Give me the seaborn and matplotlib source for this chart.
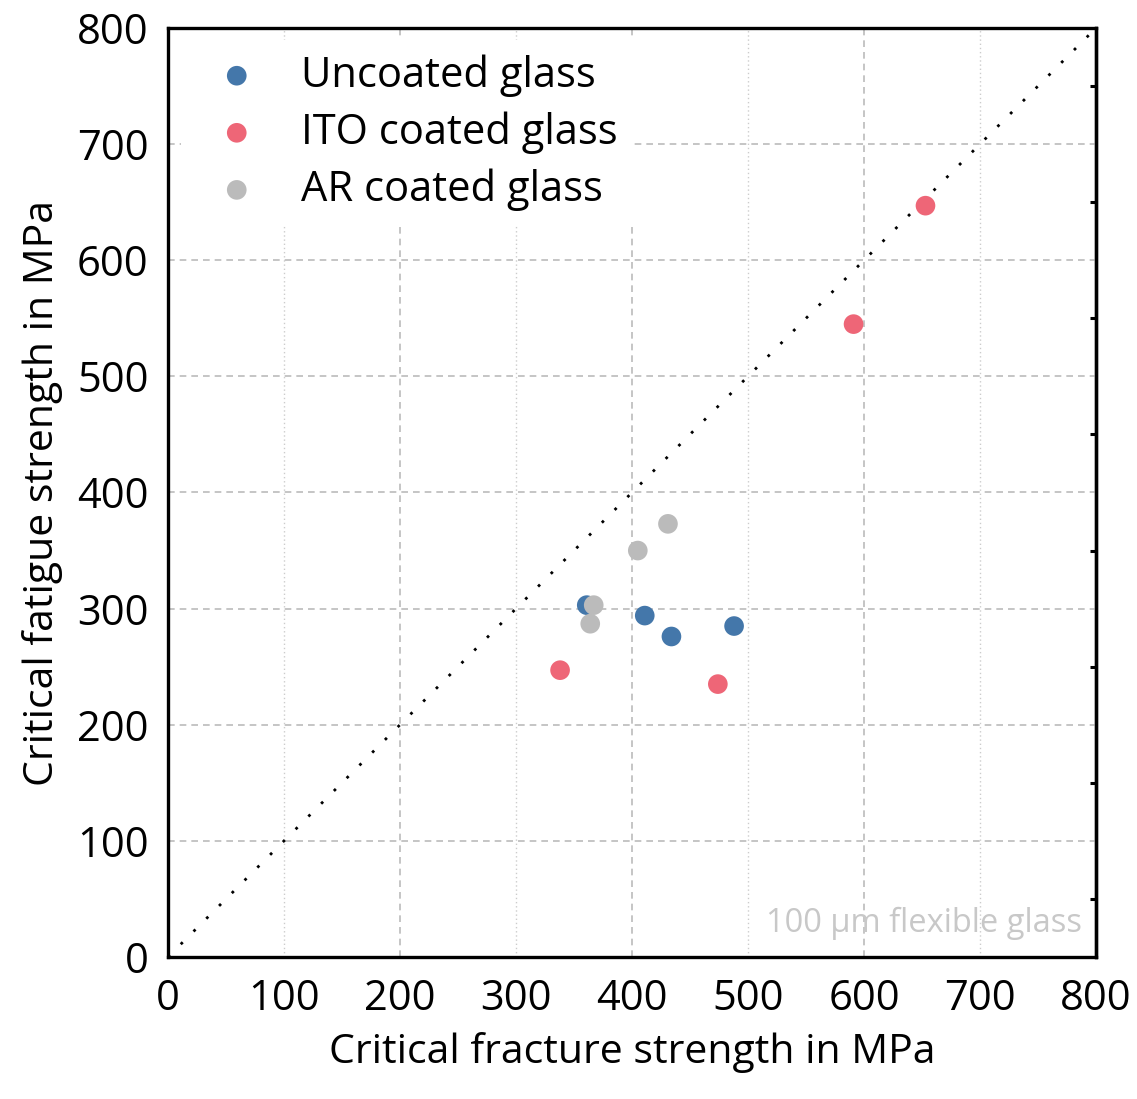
import matplotlib
matplotlib.use("Agg")
import matplotlib.pyplot as plt
import seaborn as sns
import pandas as pd
import numpy as np
from matplotlib.ticker import MultipleLocator, FuncFormatter

# ---- data ----
uncoated_x = [361, 411, 434, 488]
uncoated_y = [303, 294, 276, 285]
ito_x = [338, 474, 591, 653]
ito_y = [247, 235, 545, 647]
ar_x = [367, 364, 405, 431]
ar_y = [303, 287, 350, 373]
labels = ["Uncoated glass", "ITO coated glass", "AR coated glass"]
colors = ["#4477AA", "#EE6677", "#BBBBBB"]
axis_min, axis_max = 0, 800

sns.set_theme(style="white")
plt.rcParams['font.family'] = ['Open Sans', 'DejaVu Sans']
plt.rcParams['text.color'] = 'black'
plt.rcParams['axes.labelcolor'] = 'black'

fig = plt.figure(figsize=(11.37, 10.99), dpi=100)
ax = fig.add_axes([168/1137, 1 - 957/1099, (1096-168)/1137, (957-28)/1099])

series = [(uncoated_x, uncoated_y), (ito_x, ito_y), (ar_x, ar_y)]
for (xs, ys), lab, col in zip(series, labels, colors):
    df = pd.DataFrame({"x": xs, "y": ys})
    sns.scatterplot(data=df, x="x", y="y", ax=ax, color=col, s=200,
                    edgecolor="none", label=lab, zorder=3)

ax.plot([axis_min, axis_max], [axis_min, axis_max], color="black",
        linestyle=(0, (1, 5.5)), lw=2.0, zorder=2)

ax.set_xlim(axis_min, axis_max)
ax.set_ylim(axis_min, axis_max)

TS = 30
MAJ, MIN = 9, 4.5
# ticks
ax.xaxis.set_major_locator(MultipleLocator(200))
ax.xaxis.set_minor_locator(MultipleLocator(100))
ax.xaxis.set_minor_formatter(FuncFormatter(lambda v, p: f"{v:.0f}"))
ax.yaxis.set_major_locator(MultipleLocator(100))
ax.yaxis.set_minor_locator(MultipleLocator(50))

ax.tick_params(axis="both", which="both", direction="out", labelsize=TS,
               color="black", labelcolor="black", width=2.2)
ax.tick_params(axis="both", which="major", length=MAJ)
ax.tick_params(axis="both", which="minor", length=MIN)
ax.tick_params(axis="x", which="major", pad=6)
ax.tick_params(axis="x", which="minor", pad=6 + (MAJ - MIN))
ax.tick_params(axis="y", which="major", pad=5)

for sp in ax.spines.values():
    sp.set_color("black")
    sp.set_linewidth(2.4)

# right inward ticks at half-hundreds
ax2 = ax.secondary_yaxis("right")
ax2.yaxis.set_major_locator(MultipleLocator(100, offset=50))
ax2.tick_params(axis="y", direction="in", length=MIN, width=2.2, labelright=False, color="black")
ax2.spines["right"].set_linewidth(2.4)
ax2.spines["right"].set_color("black")

# grids
ax.grid(False)
ax.yaxis.grid(True, which="major", color="#BBBBBB", linestyle=(0, (4, 3)), lw=1.2)
ax.xaxis.grid(True, which="major", color="#BBBBBB", linestyle=(0, (4, 3)), lw=1.2)
ax.xaxis.grid(True, which="minor", color="#CCCCCC", linestyle=(0, (1, 2)), lw=1.0)
ax.set_axisbelow(True)

ax.set_xlabel("Critical fracture strength in MPa", fontsize=29.5, color="black", labelpad=9)
ax.set_ylabel("Critical fatigue strength in MPa", fontsize=29.5, color="black", labelpad=10)

leg = ax.legend(loc="upper left", bbox_to_anchor=(0.0, 1.001), fontsize=TS,
                frameon=True, facecolor="white", edgecolor="none", framealpha=1,
                fancybox=False, handletextpad=0.55, labelspacing=0.35,
                borderpad=0.35, borderaxespad=0.3, handlelength=2.0)
for t in leg.get_texts():
    t.set_color("black")
leg.set_zorder(5)

ax.text(0.985, 0.018, "100 µm flexible glass", transform=ax.transAxes,
        ha="right", va="bottom", fontsize=23.5, color="#C8C8C8")

fig.savefig("out.png", dpi=100)
